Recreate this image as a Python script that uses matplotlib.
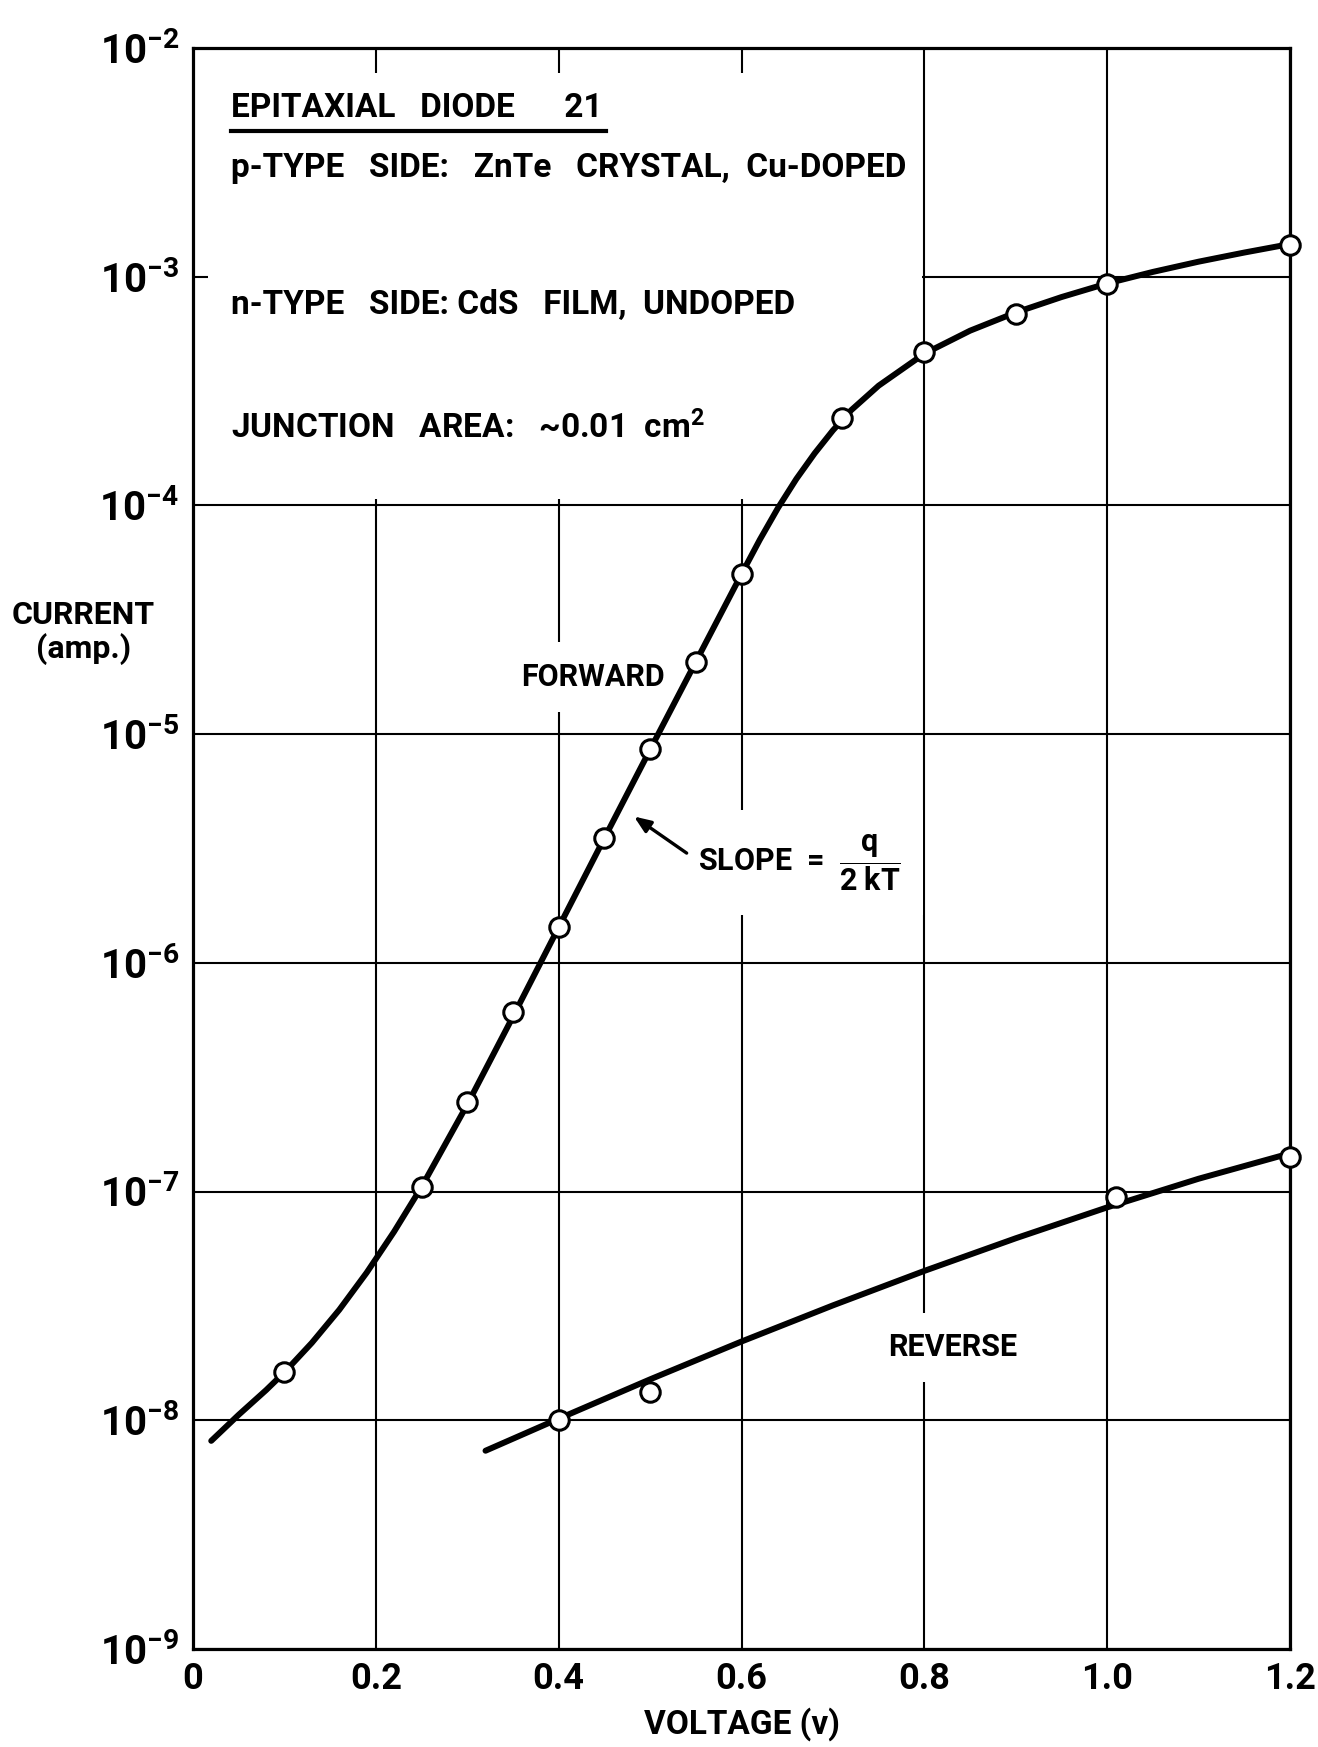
import numpy as np
import matplotlib.pyplot as plt
import matplotlib.font_manager as fm
from matplotlib.patches import Rectangle
from matplotlib.lines import Line2D
from matplotlib.ticker import NullLocator

names = {f.name for f in fm.fontManager.ttflist}
FONT = 'Liberation Sans Narrow' if 'Liberation Sans Narrow' in names else 'Roboto'

plt.rcParams['font.family'] = [FONT, 'DejaVu Sans']
plt.rcParams['font.weight'] = 'bold'
plt.rcParams['mathtext.fontset'] = 'custom'
plt.rcParams['mathtext.rm'] = FONT + ':bold'
plt.rcParams['mathtext.it'] = FONT + ':bold'
plt.rcParams['mathtext.bf'] = FONT + ':bold'
plt.rcParams['mathtext.default'] = 'regular'

# measured points (volts, amps)
fwd_v = [0.10, 0.25, 0.30, 0.35, 0.40, 0.45, 0.50, 0.55, 0.60, 0.71, 0.80, 0.90, 1.00, 1.20]
fwd_i = [1.62e-8, 1.05e-7, 2.47e-7, 6.1e-7, 1.44e-6, 3.5e-6, 8.6e-6, 2.07e-5, 5.0e-5,
         2.42e-4, 4.7e-4, 6.85e-4, 9.3e-4, 1.37e-3]
rev_v = [0.40, 0.50, 1.01, 1.20]
rev_i = [1.0e-8, 1.33e-8, 9.5e-8, 1.42e-7]

# hand drawn curves
fwd_curve_v = [0.02, 0.05, 0.08, 0.10, 0.13, 0.16, 0.19, 0.22, 0.25, 0.30, 0.35, 0.40, 0.45,
               0.50, 0.55, 0.60, 0.62, 0.64, 0.66, 0.68, 0.70, 0.72, 0.75, 0.80, 0.85, 0.90,
               0.95, 1.00, 1.05, 1.10, 1.15, 1.20]
fwd_curve_i = [8.13e-9, 1.057e-8, 1.355e-8, 1.62e-8, 2.18e-8, 3.04e-8, 4.42e-8, 6.68e-8,
               1.047e-7, 2.40e-7, 5.82e-7, 1.43e-6, 3.51e-6, 8.55e-6, 2.07e-5, 5.01e-5,
               7.08e-5, 9.77e-5, 1.306e-4, 1.69e-4, 2.13e-4, 2.61e-4, 3.34e-4, 4.61e-4,
               5.81e-4, 6.98e-4, 8.15e-4, 9.35e-4, 1.05e-3, 1.164e-3, 1.276e-3, 1.39e-3]
rev_curve_v = [0.32, 0.40, 0.50, 0.60, 0.70, 0.80, 0.90, 1.00, 1.10, 1.20]
rev_curve_i = [7.36e-9, 1.016e-8, 1.51e-8, 2.21e-8, 3.18e-8, 4.50e-8, 6.25e-8, 8.53e-8,
               1.138e-7, 1.47e-7]

x_ticks = [0, 0.2, 0.4, 0.6, 0.8, 1.0, 1.2]
x_labels = ['0', '0.2', '0.4', '0.6', '0.8', '1.0', '1.2']
y_exps = [-9, -8, -7, -6, -5, -4, -3, -2]

fig = plt.figure(figsize=(13.18, 17.47), dpi=100)
ax = fig.add_axes([0.1464, 0.0561, 0.8324, 0.9164])
ax.set_yscale('log')
ax.set_xlim(0, 1.2)
ax.set_ylim(1e-9, 1e-2)
ax.set_xticks(x_ticks)
ax.set_xticklabels(x_labels)
ax.set_yticks([10.0 ** e for e in y_exps])
ax.set_yticklabels([r'$10^{%d}$' % e for e in y_exps])
ax.yaxis.set_minor_locator(NullLocator())
ax.tick_params(axis='both', which='both', length=0)
ax.tick_params(axis='x', labelsize=26, pad=9)
ax.tick_params(axis='y', labelsize=29, pad=10)
for s in ax.spines.values():
    s.set_linewidth(2.3)

ax.set_axisbelow(True)
ax.grid(True, which='major', color='black', lw=1.5)

# blank area behind the text block (only short ticks remain)
ax.add_patch(Rectangle((0.017, 10 ** -3.97), 0.78, 10 ** -2.11 - 10 ** -3.97,
                       facecolor='white', edgecolor='none', zorder=1))

ax.plot(fwd_curve_v, fwd_curve_i, color='black', lw=4.3, zorder=3, solid_capstyle='round')
ax.plot(rev_curve_v, rev_curve_i, color='black', lw=4.3, zorder=3, solid_capstyle='round')
ax.plot(fwd_v, fwd_i, 'o', ms=14, mfc='white', mec='black', mew=2.2, zorder=4, clip_on=False)
ax.plot(rev_v, rev_i, 'o', ms=14, mfc='white', mec='black', mew=2.2, zorder=4, clip_on=False)

hsize = 24
title = ax.text(0.0346, 0.9625, 'EPITAXIAL   DIODE      21', transform=ax.transAxes,
                fontsize=hsize, va='center', ha='left', zorder=5)
ax.text(0.0346, 0.925, 'p-TYPE   SIDE:   ZnTe   CRYSTAL,  Cu-DOPED', transform=ax.transAxes,
        fontsize=hsize, va='center', ha='left', zorder=5)
ax.text(0.0346, 0.8395, 'n-TYPE   SIDE: CdS   FILM,  UNDOPED', transform=ax.transAxes,
        fontsize=hsize, va='center', ha='left', zorder=5)
ax.text(0.0346, 0.763, r'JUNCTION   AREA:   ~0.01  cm$^{2}$', transform=ax.transAxes,
        fontsize=hsize, va='center', ha='left', zorder=5)

tsize = 22
box = dict(facecolor='white', edgecolor='none', pad=14)
ax.text(0.438, 10 ** -4.75, 'FORWARD', fontsize=tsize, ha='center', va='center',
        bbox=box, zorder=2)
ax.text(0.8305, 10 ** -7.68, 'REVERSE', fontsize=tsize, ha='center', va='center',
        bbox=box, zorder=2)
ax.text(0.5525, 10 ** -5.56, r'SLOPE  =  $\dfrac{q}{2\;kT}$', fontsize=tsize,
        ha='left', va='center', bbox=dict(facecolor='white', edgecolor='none', pad=16), zorder=2)
ax.annotate('', xy=(0.4824, 10 ** -5.36), xytext=(0.54, 10 ** -5.52),
            arrowprops=dict(arrowstyle='-|>,head_length=1.0,head_width=0.4', color='black',
                            lw=2.4, shrinkA=0, shrinkB=0), zorder=5)

ax.set_xlabel('VOLTAGE (v)', fontsize=24, fontweight='bold', va='center')
ax.xaxis.set_label_coords(0.5, -0.047)
ax.set_ylabel('CURRENT\n(amp.)', fontsize=23, fontweight='bold', rotation=0,
              ha='center', va='center', linespacing=1.1)
ax.yaxis.set_label_coords(-0.1, 0.635)

# underline for the title
fig.canvas.draw()
bb = title.get_window_extent().transformed(fig.transFigure.inverted())
uy = bb.y0 - 0.004
fig.add_artist(Line2D([bb.x0, bb.x1 + 0.003], [uy, uy], color='black', lw=3))

fig.savefig('out.png', dpi=100)
